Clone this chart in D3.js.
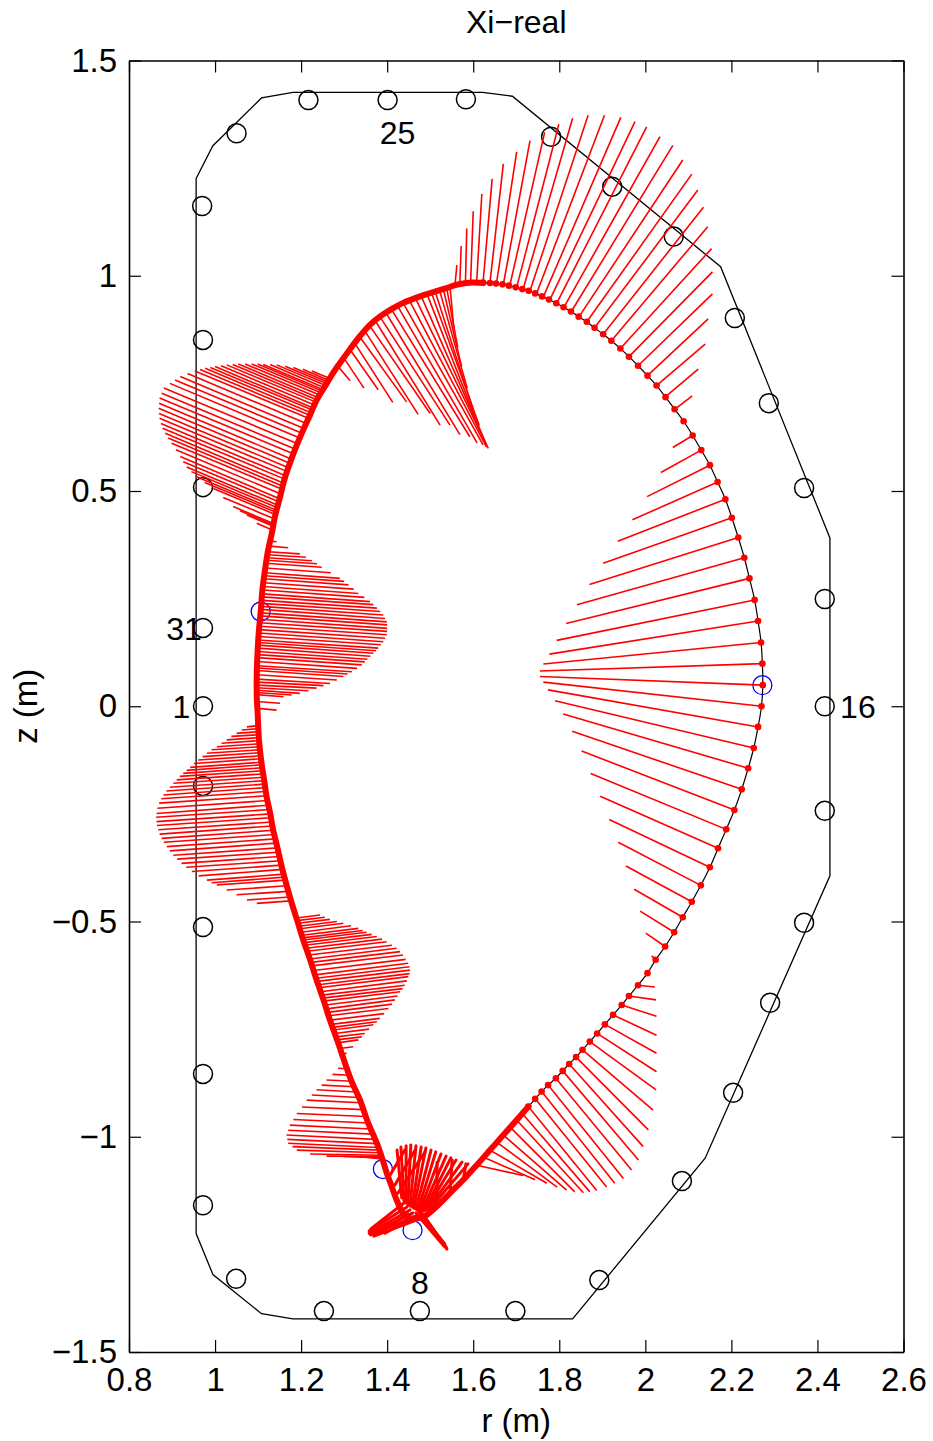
<!DOCTYPE html>
<html>
<head>
<meta charset="utf-8">
<script src="https://cdn.jsdelivr.net/npm/d3@7"></script>
<style>
  body { margin: 0; background: #fff; }
  text { font-family: "Liberation Sans", Arial, Helvetica, sans-serif; }
</style>
</head>
<body>
<div id="chart"></div>
<script>
// ---- data (metres) ----
const xTicks = [0.8, 1, 1.2, 1.4, 1.6, 1.8, 2, 2.2, 2.4, 2.6];
const yTicks = [-1.5, -1, -0.5, 0, 0.5, 1, 1.5];

// vessel wall outline
const wallR = [0.956, 0.995, 1.108, 1.181, 1.622, 1.691, 2.175, 2.429, 2.429, 2.139, 1.831, 1.181, 1.108, 0.995, 0.956];
const wallZ = [1.226, 1.302, 1.413, 1.426, 1.426, 1.417, 1.021, 0.391, -0.394, -1.050, -1.423, -1.423, -1.411, -1.320, -1.225];

// magnetic probes 1..31
const probeR = [0.972, 0.972, 0.972, 0.972, 0.972, 1.049, 1.253, 1.476, 1.698, 1.893, 2.085, 2.204, 2.290, 2.369, 2.417, 2.417,
  2.417, 2.369, 2.287, 2.208, 2.066, 1.923, 1.781, 1.583, 1.401, 1.217, 1.050, 0.970, 0.972, 0.972, 0.972];
const probeZ = [0.000, -0.185, -0.513, -0.854, -1.159, -1.330, -1.405, -1.405, -1.405, -1.333, -1.103, -0.898, -0.689, -0.503, -0.243, 0.000,
  0.249, 0.507, 0.704, 0.902, 1.091, 1.207, 1.323, 1.410, 1.408, 1.408, 1.331, 1.162, 0.851, 0.509, 0.182];

const labelText = ["1", "8", "16", "25", "31"];
const labelR = [0.922, 1.476, 2.494, 1.424, 0.928];
const labelZ = [0.000, -1.339, 0.000, 1.333, 0.180];

// plasma boundary, outboard part (sparse markers)
const outerR = [1.728, 1.744, 1.759, 1.774, 1.792, 1.808, 1.823, 1.839, 1.854, 1.871, 1.888, 1.906, 1.925, 1.945, 1.962, 1.983,
  2.005, 2.024, 2.046, 2.067, 2.087, 2.108, 2.129, 2.150, 2.169, 2.188, 2.207, 2.224, 2.239, 2.252, 2.262, 2.270,
  2.273, 2.272, 2.269, 2.262, 2.254, 2.242, 2.230, 2.216, 2.201, 2.186, 2.168, 2.150, 2.130, 2.110, 2.089, 2.068,
  2.047, 2.026, 2.005, 1.983, 1.962, 1.942, 1.921, 1.902, 1.882, 1.864, 1.845, 1.827, 1.810, 1.793, 1.776, 1.760,
  1.744, 1.729, 1.714, 1.699, 1.683, 1.668, 1.653, 1.639, 1.623];
const outerZ = [-0.930, -0.912, -0.895, -0.880, -0.864, -0.847, -0.831, -0.815, -0.798, -0.779, -0.760, -0.739, -0.717, -0.694, -0.673, -0.648,
  -0.620, -0.589, -0.558, -0.525, -0.490, -0.454, -0.416, -0.374, -0.330, -0.286, -0.241, -0.193, -0.144, -0.097, -0.048, 0.000,
  0.049, 0.099, 0.148, 0.198, 0.247, 0.297, 0.345, 0.392, 0.438, 0.481, 0.521, 0.560, 0.595, 0.629, 0.662, 0.690,
  0.718, 0.745, 0.768, 0.791, 0.812, 0.831, 0.849, 0.864, 0.879, 0.893, 0.905, 0.917, 0.927, 0.936, 0.945, 0.952,
  0.959, 0.965, 0.969, 0.973, 0.977, 0.980, 0.982, 0.983, 0.984];

// plasma boundary, inboard part (dense markers)
const innerR = [1.623, 1.608, 1.592, 1.576, 1.558, 1.534, 1.511, 1.488, 1.465, 1.437, 1.411, 1.383, 1.360, 1.337, 1.314, 1.290,
  1.274, 1.256, 1.236, 1.221, 1.205, 1.188, 1.174, 1.161, 1.151, 1.140, 1.132, 1.123, 1.116, 1.110, 1.106, 1.102,
  1.099, 1.097, 1.097, 1.099, 1.102, 1.108, 1.114, 1.120, 1.128, 1.135, 1.145, 1.155, 1.166, 1.178, 1.192, 1.205,
  1.221, 1.236, 1.252, 1.267, 1.285, 1.302, 1.318, 1.337, 1.355, 1.376, 1.388, 1.399, 1.410, 1.422, 1.437, 1.453,
  1.484, 1.515, 1.546, 1.577, 1.608, 1.639, 1.670, 1.701, 1.728];
const innerZ = [0.984, 0.984, 0.984, 0.982, 0.978, 0.970, 0.963, 0.956, 0.948, 0.937, 0.923, 0.905, 0.886, 0.860, 0.830, 0.797,
  0.774, 0.744, 0.711, 0.677, 0.642, 0.602, 0.565, 0.526, 0.486, 0.444, 0.402, 0.361, 0.316, 0.270, 0.219, 0.177,
  0.131, 0.077, 0.021, -0.016, -0.078, -0.132, -0.171, -0.211, -0.248, -0.287, -0.329, -0.373, -0.415, -0.457, -0.501, -0.543,
  -0.589, -0.636, -0.682, -0.729, -0.779, -0.829, -0.873, -0.915, -0.966, -1.015, -1.049, -1.084, -1.114, -1.147, -1.177, -1.189,
  -1.186, -1.162, -1.131, -1.100, -1.066, -1.031, -0.996, -0.961, -0.930];

// displacement vectors Xi: [r0, z0, r1, z1]
const xiOutboard = [
  [2.110, 0.629, 2.064, 0.601], [2.130, 0.595, 2.036, 0.543], [2.150, 0.560, 2.004, 0.487], [2.168, 0.521, 1.970, 0.433],
  [2.186, 0.481, 1.936, 0.383], [2.201, 0.438, 1.902, 0.332], [2.216, 0.392, 1.870, 0.283], [2.230, 0.345, 1.841, 0.236],
  [2.242, 0.297, 1.816, 0.192], [2.254, 0.247, 1.794, 0.153], [2.262, 0.198, 1.777, 0.121], [2.269, 0.148, 1.763, 0.098],
  [2.272, 0.099, 1.755, 0.082], [2.273, 0.049, 1.755, 0.069], [2.270, 0.000, 1.763, 0.056], [2.262, -0.048, 1.774, 0.038],
  [2.252, -0.097, 1.790, 0.013], [2.239, -0.144, 1.809, -0.018], [2.224, -0.193, 1.830, -0.058], [2.207, -0.241, 1.852, -0.104],
  [2.188, -0.286, 1.873, -0.156], [2.169, -0.330, 1.895, -0.209], [2.150, -0.374, 1.916, -0.263], [2.129, -0.416, 1.937, -0.316],
  [2.108, -0.454, 1.955, -0.371], [2.087, -0.490, 1.974, -0.425], [2.067, -0.525, 1.988, -0.476], [2.046, -0.558, 2.001, -0.527],
  [2.024, -0.589, 2.015, -0.580]
];
const xiTop = [
  [1.558, 0.982, 1.562, 1.025], [1.569, 0.984, 1.572, 1.069], [1.582, 0.985, 1.585, 1.110], [1.594, 0.986, 1.600, 1.150],
  [1.608, 0.986, 1.620, 1.190], [1.623, 0.986, 1.644, 1.225], [1.639, 0.985, 1.670, 1.260], [1.654, 0.982, 1.701, 1.288],
  [1.670, 0.980, 1.732, 1.314], [1.685, 0.977, 1.766, 1.333], [1.701, 0.973, 1.799, 1.352], [1.716, 0.969, 1.831, 1.366],
  [1.732, 0.965, 1.867, 1.373], [1.747, 0.958, 1.905, 1.373], [1.763, 0.951, 1.943, 1.368], [1.778, 0.944, 1.976, 1.358],
  [1.794, 0.936, 2.003, 1.346], [1.811, 0.927, 2.034, 1.323], [1.828, 0.917, 2.064, 1.303], [1.846, 0.905, 2.087, 1.269],
  [1.864, 0.893, 2.108, 1.236], [1.882, 0.879, 2.122, 1.199], [1.902, 0.864, 2.135, 1.159], [1.921, 0.849, 2.145, 1.114],
  [1.942, 0.831, 2.154, 1.063], [1.962, 0.812, 2.156, 1.009], [1.983, 0.791, 2.156, 0.958], [2.005, 0.768, 2.146, 0.900],
  [2.026, 0.745, 2.139, 0.841], [2.047, 0.719, 2.123, 0.783], [2.069, 0.690, 2.109, 0.721]
];
const xiUpperFan = [
  [1.286, 0.789, 1.314, 0.756], [1.300, 0.808, 1.346, 0.739], [1.314, 0.828, 1.379, 0.735], [1.325, 0.843, 1.413, 0.706],
  [1.337, 0.857, 1.445, 0.707], [1.348, 0.872, 1.472, 0.678], [1.360, 0.883, 1.500, 0.680], [1.372, 0.896, 1.523, 0.653],
  [1.383, 0.905, 1.546, 0.653], [1.397, 0.914, 1.569, 0.631], [1.410, 0.922, 1.592, 0.626], [1.424, 0.930, 1.609, 0.612],
  [1.437, 0.937, 1.623, 0.607], [1.451, 0.944, 1.631, 0.602], [1.465, 0.949, 1.635, 0.599], [1.478, 0.955, 1.631, 0.607],
  [1.492, 0.959, 1.625, 0.618], [1.502, 0.963, 1.614, 0.652], [1.511, 0.965, 1.600, 0.688], [1.521, 0.969, 1.586, 0.739],
  [1.530, 0.971, 1.573, 0.789], [1.538, 0.973, 1.564, 0.834], [1.546, 0.975, 1.555, 0.878]
];
const xiUpperLobe = [
  [1.263, 0.763, 1.225, 0.779], [1.262, 0.758, 1.204, 0.783], [1.262, 0.753, 1.182, 0.787], [1.260, 0.749, 1.163, 0.790],
  [1.257, 0.745, 1.143, 0.793], [1.254, 0.740, 1.128, 0.794], [1.251, 0.735, 1.112, 0.794], [1.249, 0.732, 1.099, 0.795],
  [1.246, 0.728, 1.085, 0.795], [1.243, 0.723, 1.070, 0.795], [1.239, 0.717, 1.054, 0.795], [1.236, 0.712, 1.041, 0.794],
  [1.233, 0.707, 1.027, 0.793], [1.231, 0.700, 1.014, 0.791], [1.228, 0.693, 1.000, 0.789], [1.226, 0.688, 0.989, 0.787],
  [1.223, 0.682, 0.977, 0.785], [1.220, 0.676, 0.965, 0.782], [1.217, 0.669, 0.953, 0.779], [1.212, 0.657, 0.936, 0.773],
  [1.207, 0.645, 0.919, 0.766], [1.202, 0.634, 0.907, 0.758], [1.197, 0.623, 0.895, 0.750], [1.192, 0.610, 0.881, 0.739],
  [1.187, 0.597, 0.876, 0.727], [1.183, 0.586, 0.871, 0.716], [1.178, 0.574, 0.870, 0.704], [1.175, 0.564, 0.869, 0.692],
  [1.171, 0.554, 0.870, 0.680], [1.168, 0.545, 0.871, 0.669], [1.165, 0.535, 0.874, 0.657], [1.163, 0.527, 0.878, 0.646],
  [1.160, 0.518, 0.884, 0.634], [1.158, 0.511, 0.891, 0.623], [1.156, 0.504, 0.899, 0.611], [1.153, 0.493, 0.909, 0.596],
  [1.150, 0.482, 0.919, 0.580], [1.148, 0.475, 0.926, 0.568], [1.146, 0.467, 0.934, 0.556], [1.145, 0.461, 0.945, 0.545],
  [1.144, 0.455, 0.957, 0.533], [1.143, 0.450, 0.976, 0.520], [1.141, 0.445, 0.996, 0.506], [1.139, 0.435, 1.019, 0.485],
  [1.137, 0.424, 1.042, 0.464], [1.136, 0.421, 1.058, 0.454], [1.135, 0.418, 1.074, 0.444], [1.134, 0.409, 1.097, 0.425]
];
const xiMidLobe = [
  [1.128, 0.384, 1.143, 0.382], [1.126, 0.372, 1.170, 0.368], [1.124, 0.359, 1.197, 0.354], [1.123, 0.352, 1.211, 0.346],
  [1.121, 0.345, 1.225, 0.338], [1.120, 0.339, 1.237, 0.331], [1.118, 0.332, 1.248, 0.323], [1.117, 0.321, 1.269, 0.310],
  [1.115, 0.310, 1.290, 0.297], [1.115, 0.303, 1.300, 0.290], [1.114, 0.296, 1.310, 0.282], [1.113, 0.287, 1.322, 0.272],
  [1.112, 0.278, 1.333, 0.262], [1.112, 0.270, 1.347, 0.253], [1.111, 0.261, 1.360, 0.243], [1.110, 0.254, 1.368, 0.236],
  [1.109, 0.246, 1.376, 0.228], [1.108, 0.239, 1.384, 0.220], [1.107, 0.232, 1.391, 0.212], [1.107, 0.225, 1.395, 0.204],
  [1.106, 0.217, 1.399, 0.196], [1.105, 0.210, 1.400, 0.189], [1.104, 0.202, 1.400, 0.181], [1.104, 0.194, 1.400, 0.174],
  [1.104, 0.186, 1.399, 0.166], [1.103, 0.178, 1.395, 0.158], [1.102, 0.170, 1.391, 0.150], [1.101, 0.162, 1.385, 0.143],
  [1.100, 0.154, 1.379, 0.135], [1.100, 0.148, 1.374, 0.129], [1.100, 0.142, 1.368, 0.123], [1.100, 0.135, 1.361, 0.116],
  [1.099, 0.127, 1.354, 0.109], [1.099, 0.120, 1.348, 0.103], [1.098, 0.113, 1.341, 0.096], [1.098, 0.104, 1.330, 0.088],
  [1.098, 0.094, 1.318, 0.080], [1.098, 0.089, 1.308, 0.075], [1.097, 0.083, 1.298, 0.069], [1.097, 0.073, 1.283, 0.061],
  [1.097, 0.063, 1.267, 0.053], [1.097, 0.056, 1.252, 0.048], [1.097, 0.049, 1.236, 0.042], [1.097, 0.043, 1.217, 0.036],
  [1.097, 0.037, 1.197, 0.030], [1.097, 0.032, 1.178, 0.026], [1.097, 0.027, 1.159, 0.022], [1.097, 0.011, 1.151, 0.007],
  [1.100, -0.005, 1.143, -0.009]
];
const xiLowerLobe = [
  [1.101, -0.045, 1.074, -0.048], [1.101, -0.052, 1.062, -0.055], [1.102, -0.059, 1.050, -0.063], [1.102, -0.066, 1.038, -0.070],
  [1.103, -0.073, 1.027, -0.078], [1.103, -0.080, 1.015, -0.086], [1.104, -0.087, 1.004, -0.094], [1.104, -0.094, 0.992, -0.101],
  [1.104, -0.101, 0.981, -0.109], [1.105, -0.108, 0.971, -0.117], [1.106, -0.115, 0.961, -0.125], [1.107, -0.122, 0.951, -0.133],
  [1.108, -0.130, 0.942, -0.142], [1.109, -0.136, 0.934, -0.149], [1.110, -0.143, 0.926, -0.156], [1.111, -0.150, 0.918, -0.163],
  [1.112, -0.157, 0.911, -0.171], [1.113, -0.165, 0.903, -0.179], [1.114, -0.173, 0.895, -0.188], [1.115, -0.181, 0.887, -0.197],
  [1.117, -0.189, 0.880, -0.206], [1.118, -0.198, 0.875, -0.215], [1.120, -0.208, 0.870, -0.225], [1.122, -0.219, 0.866, -0.237],
  [1.124, -0.230, 0.864, -0.249], [1.126, -0.240, 0.863, -0.258], [1.128, -0.250, 0.864, -0.268], [1.130, -0.259, 0.865, -0.277],
  [1.132, -0.269, 0.868, -0.287], [1.133, -0.278, 0.871, -0.297], [1.135, -0.288, 0.876, -0.307], [1.137, -0.298, 0.881, -0.316],
  [1.140, -0.308, 0.888, -0.326], [1.142, -0.318, 0.895, -0.336], [1.145, -0.329, 0.903, -0.346], [1.147, -0.339, 0.912, -0.355],
  [1.149, -0.349, 0.922, -0.365], [1.151, -0.359, 0.933, -0.374], [1.154, -0.369, 0.946, -0.384], [1.157, -0.379, 0.962, -0.394],
  [1.160, -0.390, 0.981, -0.404], [1.161, -0.397, 0.992, -0.410], [1.163, -0.404, 1.004, -0.415], [1.166, -0.417, 1.027, -0.427],
  [1.170, -0.430, 1.050, -0.438], [1.173, -0.443, 1.074, -0.450], [1.176, -0.452, 1.097, -0.458]
];
const xiLegLobe = [
  [1.189, -0.492, 1.244, -0.485], [1.190, -0.498, 1.255, -0.490], [1.192, -0.504, 1.267, -0.495], [1.195, -0.511, 1.283, -0.500],
  [1.197, -0.517, 1.298, -0.504], [1.200, -0.525, 1.316, -0.510], [1.202, -0.532, 1.333, -0.516], [1.204, -0.538, 1.343, -0.521],
  [1.205, -0.543, 1.352, -0.525], [1.207, -0.549, 1.364, -0.530], [1.209, -0.555, 1.376, -0.535], [1.212, -0.562, 1.388, -0.541],
  [1.214, -0.569, 1.399, -0.547], [1.217, -0.578, 1.411, -0.555], [1.220, -0.587, 1.422, -0.562], [1.223, -0.595, 1.430, -0.570],
  [1.225, -0.603, 1.437, -0.578], [1.229, -0.614, 1.443, -0.588], [1.232, -0.624, 1.449, -0.597], [1.235, -0.632, 1.452, -0.605],
  [1.237, -0.639, 1.453, -0.613], [1.240, -0.647, 1.452, -0.621], [1.242, -0.654, 1.449, -0.628], [1.245, -0.663, 1.446, -0.638],
  [1.248, -0.671, 1.441, -0.648], [1.250, -0.678, 1.436, -0.656], [1.252, -0.685, 1.430, -0.663], [1.256, -0.694, 1.424, -0.673],
  [1.259, -0.703, 1.418, -0.682], [1.262, -0.711, 1.411, -0.692], [1.264, -0.719, 1.403, -0.702], [1.267, -0.729, 1.393, -0.714],
  [1.270, -0.739, 1.383, -0.725], [1.273, -0.746, 1.376, -0.733], [1.275, -0.752, 1.368, -0.740], [1.278, -0.760, 1.358, -0.750],
  [1.280, -0.768, 1.348, -0.760], [1.283, -0.775, 1.341, -0.768], [1.285, -0.782, 1.333, -0.775], [1.290, -0.795, 1.321, -0.791],
  [1.294, -0.808, 1.306, -0.806]
];
const xiDivertorLobe = [
  [1.307, -0.842, 1.286, -0.841], [1.313, -0.857, 1.273, -0.855], [1.319, -0.871, 1.259, -0.868], [1.324, -0.884, 1.248, -0.880],
  [1.329, -0.896, 1.236, -0.891], [1.334, -0.909, 1.225, -0.903], [1.339, -0.921, 1.213, -0.915], [1.345, -0.937, 1.202, -0.931],
  [1.351, -0.953, 1.190, -0.946], [1.357, -0.968, 1.182, -0.960], [1.362, -0.982, 1.174, -0.973], [1.367, -0.994, 1.170, -0.985],
  [1.372, -1.006, 1.166, -0.996], [1.376, -1.016, 1.168, -1.006], [1.379, -1.025, 1.170, -1.015], [1.381, -1.031, 1.180, -1.023],
  [1.383, -1.037, 1.190, -1.031], [1.386, -1.043, 1.221, -1.040], [1.388, -1.046, 1.259, -1.045], [1.390, -1.049, 1.298, -1.046],
  [1.391, -1.052, 1.337, -1.046]
];
// around the X-point: left blade, right blade, upward cluster
const xiXPoint = [
  [1.439, -1.154, 1.362, -1.214], [1.446, -1.163, 1.358, -1.219], [1.453, -1.170, 1.358, -1.224], [1.460, -1.177, 1.360, -1.226],
  [1.467, -1.184, 1.362, -1.228], [1.474, -1.191, 1.369, -1.231], [1.458, -1.189, 1.395, -1.224], [1.448, -1.179, 1.379, -1.226],
  [1.462, -1.159, 1.534, -1.249], [1.469, -1.166, 1.537, -1.256], [1.476, -1.172, 1.539, -1.261], [1.483, -1.179, 1.537, -1.258],
  [1.474, -1.186, 1.532, -1.254], [1.467, -1.177, 1.523, -1.240],
  [1.434, -1.142, 1.423, -1.031], [1.439, -1.149, 1.432, -1.024], [1.444, -1.154, 1.444, -1.021], [1.448, -1.159, 1.455, -1.019],
  [1.453, -1.161, 1.467, -1.021], [1.458, -1.163, 1.479, -1.024], [1.462, -1.166, 1.490, -1.026], [1.467, -1.168, 1.502, -1.031],
  [1.472, -1.170, 1.513, -1.035], [1.476, -1.172, 1.525, -1.040], [1.481, -1.172, 1.537, -1.045], [1.486, -1.172, 1.548, -1.049],
  [1.490, -1.170, 1.560, -1.054], [1.495, -1.168, 1.574, -1.059], [1.500, -1.166, 1.588, -1.063],
  [1.407, -1.089, 1.441, -1.031], [1.418, -1.112, 1.465, -1.031], [1.425, -1.131, 1.488, -1.035],
  [1.516, -1.161, 1.516, -1.059], [1.546, -1.131, 1.551, -1.054], [1.577, -1.100, 1.583, -1.063]
];
const xiOuterLeg = [
  [1.983, -0.648, 2.022, -0.652], [1.962, -0.673, 2.025, -0.682], [1.945, -0.694, 2.026, -0.720], [1.925, -0.717, 2.026, -0.764],
  [1.906, -0.739, 2.026, -0.806], [1.888, -0.760, 2.026, -0.849], [1.871, -0.779, 2.025, -0.891], [1.854, -0.798, 2.018, -0.938],
  [1.839, -0.815, 2.007, -0.984], [1.823, -0.831, 1.995, -1.023], [1.808, -0.847, 1.984, -1.054], [1.792, -0.864, 1.968, -1.077],
  [1.774, -0.880, 1.949, -1.097], [1.759, -0.895, 1.929, -1.108], [1.744, -0.912, 1.910, -1.117], [1.728, -0.930, 1.887, -1.125],
  [1.713, -0.945, 1.871, -1.128], [1.701, -0.961, 1.856, -1.130], [1.685, -0.977, 1.836, -1.128], [1.670, -0.996, 1.817, -1.124],
  [1.654, -1.012, 1.795, -1.117], [1.639, -1.031, 1.771, -1.108], [1.623, -1.047, 1.744, -1.100], [1.608, -1.066, 1.716, -1.090]
];

// highlighted points (blue)
const markR = [1.106, 2.272, 1.390, 1.459];
const markZ = [0.220, 0.049, -1.075, -1.217];

// ---- chart ----
const width = 933, height = 1441;
const margin = { top: 60.5, right: 29.5, bottom: 89, left: 129 };
const innerW = width - margin.left - margin.right;
const innerH = height - margin.top - margin.bottom;

const svg = d3.select("#chart").append("svg")
  .attr("width", width)
  .attr("height", height)
  .style("background", "#fff");

const x = d3.scaleLinear().domain([0.8, 2.6]).range([margin.left, margin.left + innerW]);
const y = d3.scaleLinear().domain([-1.5, 1.5]).range([margin.top + innerH, margin.top]);

const fmt = d => (d < 0 ? "\u2212" : "") + Math.abs(d);

// axes, ticks pointing inward on all four sides
const axisB = svg.append("g").attr("transform", "translate(0," + (margin.top + innerH) + ")")
  .call(d3.axisBottom(x).tickValues(xTicks).tickFormat(fmt).tickSizeInner(-12).tickSizeOuter(0).tickPadding(16));
const axisT = svg.append("g").attr("transform", "translate(0," + margin.top + ")")
  .call(d3.axisTop(x).tickValues(xTicks).tickFormat("").tickSizeInner(-12).tickSizeOuter(0));
const axisL = svg.append("g").attr("transform", "translate(" + margin.left + ",0)")
  .call(d3.axisLeft(y).tickValues(yTicks).tickFormat(fmt).tickSizeInner(-12).tickSizeOuter(0).tickPadding(12));
const axisR = svg.append("g").attr("transform", "translate(" + (margin.left + innerW) + ",0)")
  .call(d3.axisRight(y).tickValues(yTicks).tickFormat("").tickSizeInner(-12).tickSizeOuter(0));

[axisB, axisT, axisL, axisR].forEach(a => {
  a.select(".domain").attr("stroke", "#000").attr("stroke-width", 1.6);
  a.selectAll(".tick line").attr("stroke", "#000").attr("stroke-width", 1.2);
  a.selectAll(".tick text").attr("fill", "#000").style("font-size", "33px")
    .style("font-family", "'Liberation Sans', Arial, sans-serif");
});

// titles
svg.append("text")
  .attr("x", margin.left + innerW / 2).attr("y", 33)
  .attr("text-anchor", "middle").style("font-size", "32px")
  .text("Xi\u2212real");
svg.append("text")
  .attr("x", margin.left + innerW / 2).attr("y", 1432)
  .attr("text-anchor", "middle").style("font-size", "33px")
  .text("r (m)");
svg.append("text")
  .attr("transform", "translate(37," + (margin.top + innerH / 2) + ") rotate(-90)")
  .attr("text-anchor", "middle").style("font-size", "33px")
  .text("z (m)");

const plot = svg.append("g");

// wall
const wallPts = wallR.map((r, i) => [r, wallZ[i]]);
plot.append("path")
  .datum(wallPts)
  .attr("d", d3.line().x(d => x(d[0])).y(d => y(d[1])).curve(d3.curveLinearClosed))
  .attr("fill", "none").attr("stroke", "#000").attr("stroke-width", 1.3);

// probes
plot.selectAll(".probe").data(probeR.map((r, i) => [r, probeZ[i]])).join("circle")
  .attr("class", "probe")
  .attr("cx", d => x(d[0])).attr("cy", d => y(d[1]))
  .attr("r", 9.5)
  .attr("fill", "none").attr("stroke", "#000").attr("stroke-width", 1.5);

plot.selectAll(".plabel").data(labelText).join("text")
  .attr("class", "plabel")
  .attr("x", (d, i) => x(labelR[i])).attr("y", (d, i) => y(labelZ[i]))
  .attr("dy", "0.36em")
  .attr("text-anchor", "middle").style("font-size", "32px")
  .text(d => d);

// boundary contour (black)
const outerPts = outerR.map((r, i) => [r, outerZ[i]]);
const innerPts = innerR.map((r, i) => [r, innerZ[i]]);
const lineGen = d3.line().x(d => x(d[0])).y(d => y(d[1])).curve(d3.curveCatmullRom);
plot.append("path")
  .datum(outerPts.concat(innerPts.slice(1)))
  .attr("d", lineGen)
  .attr("fill", "none").attr("stroke", "#000").attr("stroke-width", 1.2);

// blue markers
plot.selectAll(".mark").data(markR.map((r, i) => [r, markZ[i]])).join("circle")
  .attr("class", "mark")
  .attr("cx", d => x(d[0])).attr("cy", d => y(d[1])).attr("r", 9.5)
  .attr("fill", "none").attr("stroke", "#0000ff").attr("stroke-width", 1.3);

// displacement vectors
const allXi = [].concat(xiOutboard, xiTop, xiUpperFan, xiUpperLobe, xiMidLobe, xiLowerLobe,
  xiLegLobe, xiDivertorLobe, xiOuterLeg);
plot.selectAll(".xi").data(allXi).join("line")
  .attr("class", "xi")
  .attr("x1", d => x(d[0])).attr("y1", d => y(d[1]))
  .attr("x2", d => x(d[2])).attr("y2", d => y(d[3]))
  .attr("stroke", "#ff0000").attr("stroke-width", 1.6);

// the X-point vectors overlap into a solid mass
plot.selectAll(".xix").data(xiXPoint).join("line")
  .attr("class", "xix")
  .attr("x1", d => x(d[0])).attr("y1", d => y(d[1]))
  .attr("x2", d => x(d[2])).attr("y2", d => y(d[3]))
  .attr("stroke", "#ff0000").attr("stroke-width", 3).attr("stroke-linecap", "round");

// dense inboard markers drawn as a thick red trace
plot.append("path")
  .datum(innerPts)
  .attr("d", lineGen)
  .attr("fill", "none").attr("stroke", "#ff0000").attr("stroke-width", 6)
  .attr("stroke-linejoin", "round").attr("stroke-linecap", "round");

// outboard markers
plot.selectAll(".dot").data(outerPts).join("circle")
  .attr("class", "dot")
  .attr("cx", d => x(d[0])).attr("cy", d => y(d[1])).attr("r", 3.3)
  .attr("fill", "#ff0000");
</script>
</body>
</html>
